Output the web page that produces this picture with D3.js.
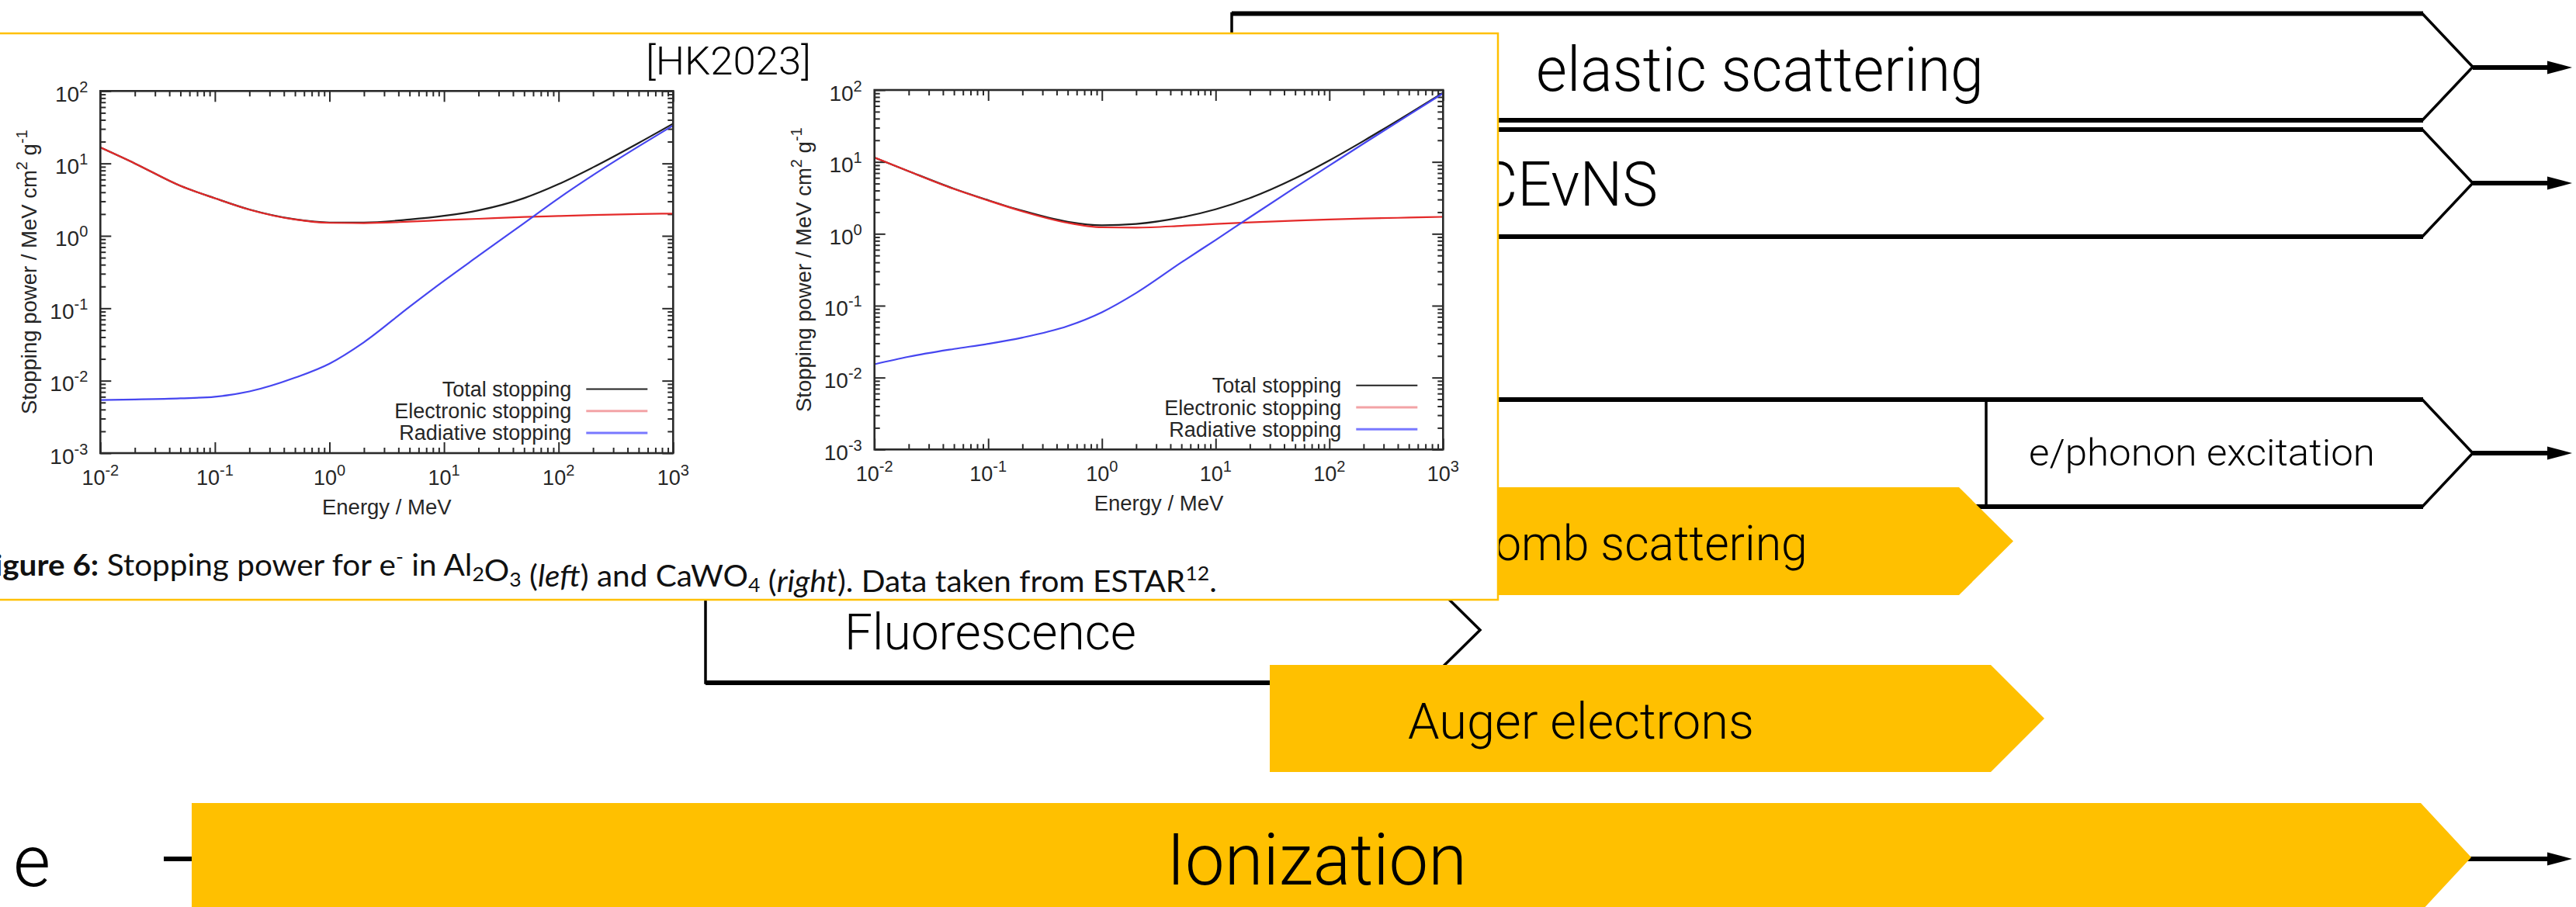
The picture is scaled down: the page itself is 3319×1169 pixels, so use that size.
<!DOCTYPE html>
<html><head><meta charset="utf-8">
<script src="https://cdn.jsdelivr.net/npm/d3@7"></script>
<style>html,body{margin:0;padding:0;background:#fff;overflow:hidden}svg{display:block}</style>
</head><body>
<svg id="c" width="3319" height="1169"></svg>
<script>
// ---------------- data ----------------
const energies = [0.01,0.02,0.05,0.1,0.2,0.5,1,2,5,10,20,50,100,200,500,1000];
const al2o3Total      = [16.6,10.0,4.91,3.31,2.31,1.69,1.53,1.53,1.68,1.89,2.25,3.32,5.18,8.84,19.2,35.5];
const al2o3Electronic = [16.6,10.0,4.9,3.3,2.3,1.68,1.51,1.5,1.57,1.65,1.72,1.82,1.88,1.94,2.0,2.03];
const al2o3Radiative  = [0.0054,0.0055,0.0057,0.006,0.0071,0.011,0.0172,0.034,0.105,0.24,0.53,1.5,3.3,6.9,17.2,33.5];
const cawo4Total      = [11.5,7.42,4.23,2.93,2.09,1.47,1.31,1.37,1.69,2.19,3.14,5.92,10.5,19.6,46.7,91.7];
const cawo4Electronic = [11.5,7.4,4.2,2.9,2.05,1.42,1.23,1.22,1.29,1.37,1.44,1.52,1.58,1.63,1.68,1.72];
const cawo4Radiative  = [0.0153,0.0195,0.025,0.0295,0.036,0.052,0.081,0.15,0.4,0.82,1.7,4.4,8.9,18,45,90];
const seriesNames = ["Total stopping","Electronic stopping","Radiative stopping"];
const seriesColors = ["#1e1e1e","#e42a2a","#4646f0"];
const legendColors = ["#222222","#f3a3a6","#7878ff"];
const xTickExponents = [-2,-1,0,1,2,3];
const yTickExponents = [-3,-2,-1,0,1,2];
const processLabels = ["elastic scattering","CEvNS","e/phonon excitation","Coulomb scattering","Fluorescence","Auger electrons","Ionization"];
const particleLabel = "e";
const citeLabel = "[HK2023]";

// ---------------- setup ----------------
const svg = d3.select("#c");
const LIGHT = "Roboto, 'Liberation Sans', Arial, sans-serif";
const PLOTF = "'Liberation Sans', Arial, Helvetica, sans-serif";
const GOLD = "#FFC000";

function boxPath(b){
  const m=(b.top+b.bottom)/2;
  return `M${b.left},${b.top}L${b.flat},${b.top}L${b.tip},${m}L${b.flat},${b.bottom}L${b.left},${b.bottom}Z`;
}
function arrow(g, x0, y){
  g.append("line").attr("x1",x0).attr("x2",3288).attr("y1",y).attr("y2",y)
    .attr("stroke","#000").attr("stroke-width",6);
  g.append("path").attr("d",`M3282,${y-8.5}L3314,${y}L3282,${y+8.5}Z`).attr("fill","#000");
}
function whiteBox(g, b){
  g.append("path").attr("d",boxPath(b)).attr("fill","#fff").attr("stroke","#000")
    .attr("stroke-width",3.5).attr("stroke-linejoin","miter");
  [b.top,b.bottom].forEach(yy=>g.append("line").attr("x1",b.left).attr("x2",b.flat+1)
    .attr("y1",yy).attr("y2",yy).attr("stroke","#000").attr("stroke-width",6));
}
function yellowBar(g,b){
  g.append("path").attr("d",boxPath(b)).attr("fill",GOLD);
}
let lightScale = 1;
function label(g, d){
  const t = g.append("text").attr("x",0).attr("y",0)
    .style("font-family",LIGHT).style("font-weight",300).style("font-size",d.size+"px")
    .attr("fill","#000").text(d.text);
  const w = t.node().getComputedTextLength();
  let s, x0;
  if (d.x0!=null && d.x1!=null){ s=(d.x1-d.x0)/w; x0=d.x0; }
  else { s=lightScale; x0=d.x1-w*s; }
  t.attr("transform",`translate(${x0},${d.baseline}) scale(${s},1)`);
  return s;
}

// ---------------- diagram ----------------
const dg = svg.append("g");
const elastic = {left:1587,top:17.5,bottom:155,flat:3121,tip:3186};
const cevns   = {left:1400,top:167,bottom:305,flat:3121,tip:3186};
const row3    = {left:1400,top:515,bottom:653,flat:3121,tip:3186};
const fluo    = {left:909,top:744,bottom:880,flat:1838,tip:1907};
arrow(dg, 3186, 87);
arrow(dg, 3186, 236);
arrow(dg, 3186, 584);
whiteBox(dg, elastic);
whiteBox(dg, cevns);
whiteBox(dg, row3);
dg.append("line").attr("x1",2559).attr("x2",2559).attr("y1",row3.top).attr("y2",row3.bottom)
  .attr("stroke","#000").attr("stroke-width",3.5);
lightScale = label(dg,{text:processLabels[0],x0:1979,x1:2556,baseline:117,size:80});
label(dg,{text:processLabels[1],x1:2136,baseline:265,size:80});
label(dg,{text:processLabels[2],x0:2614,x1:3060,baseline:600,size:49});
whiteBox(dg, fluo);
label(dg,{text:processLabels[4],x0:1088,x1:1464,baseline:837,size:65});

dg.append("text").attr("x",17).attr("y",1142).style("font-family",LIGHT).style("font-weight",300)
  .style("font-size","93px").attr("fill","#000").text(particleLabel);
arrow(dg, 211, 1107);

const coulomb = {left:900,top:628,bottom:767,flat:2524,tip:2594};
const auger   = {left:1636,top:857,bottom:995,flat:2565,tip:2634};
const ioniz   = {left:247,top:1035,bottom:1175,flat:3119,tip:3184};
yellowBar(dg,coulomb);
label(dg,{text:processLabels[3],x1:2329,baseline:722,size:63});
yellowBar(dg,auger);
label(dg,{text:processLabels[5],x0:1814,x1:2260,baseline:952,size:65});
yellowBar(dg,ioniz);
label(dg,{text:processLabels[6],x0:1503,x1:1890,baseline:1140,size:93});

// ---------------- inset figure ----------------
const inset = svg.append("g");
inset.append("rect").attr("x",-10).attr("y",43).attr("width",1940).attr("height",730)
  .attr("fill","#fff").attr("stroke",GOLD).attr("stroke-width",2.5);
label(inset,{text:citeLabel,x0:832,x1:1045,baseline:96,size:50});

function drawPlot(cfg, series){
  const g = inset.append("g");
  const x = d3.scaleLog().domain([1e-2,1e3]).range([cfg.l,cfg.r]);
  const y = d3.scaleLog().domain([1e-3,1e2]).range([cfg.b,cfg.t]);
  const majX = xTickExponents.map(e=>Math.pow(10,e));
  const majY = yTickExponents.map(e=>Math.pow(10,e));
  const minX=[], minY=[];
  xTickExponents.slice(0,-1).forEach(e=>{for(let k=2;k<10;k++) minX.push(k*Math.pow(10,e));});
  yTickExponents.slice(0,-1).forEach(e=>{for(let k=2;k<10;k++) minY.push(k*Math.pow(10,e));});
  const ax=(gen,tv,size,tr)=>{
    const a=g.append("g").attr("transform",tr).call(gen.tickValues(tv).tickSize(size).tickFormat(""));
    a.select(".domain").remove();
    a.selectAll("line").attr("stroke","#2a2a2a").attr("stroke-width",2);
  };
  ax(d3.axisBottom(x),majX,-14,`translate(0,${cfg.b})`);
  ax(d3.axisBottom(x),minX,-7,`translate(0,${cfg.b})`);
  ax(d3.axisTop(x),majX,-14,`translate(0,${cfg.t})`);
  ax(d3.axisTop(x),minX,-7,`translate(0,${cfg.t})`);
  ax(d3.axisLeft(y),majY,-14,`translate(${cfg.l},0)`);
  ax(d3.axisLeft(y),minY,-7,`translate(${cfg.l},0)`);
  ax(d3.axisRight(y),majY,-14,`translate(${cfg.r},0)`);
  ax(d3.axisRight(y),minY,-7,`translate(${cfg.r},0)`);

  const line=d3.line().x(d=>x(d[0])).y(d=>y(d[1])).curve(d3.curveMonotoneX);
  series.forEach((vals,i)=>{
    g.append("path").datum(energies.map((e,j)=>[e,vals[j]])).attr("d",line)
      .attr("fill","none").attr("stroke",seriesColors[i]).attr("stroke-width",2.2);
  });
  g.append("rect").attr("x",cfg.l).attr("y",cfg.t).attr("width",cfg.r-cfg.l).attr("height",cfg.b-cfg.t)
    .attr("fill","none").attr("stroke","#2a2a2a").attr("stroke-width",2.6);

  const tc="#262626";
  xTickExponents.forEach(e=>{
    const t=g.append("text").attr("x",x(Math.pow(10,e))).attr("y",cfg.b+41).attr("text-anchor","middle")
      .style("font-family",PLOTF).style("font-size","27px").attr("fill",tc);
    t.append("tspan").text("10");
    t.append("tspan").attr("dy",-12).style("font-size","20px").text(String(e));
  });
  yTickExponents.forEach(e=>{
    const t=g.append("text").attr("x",cfg.l-16).attr("y",y(Math.pow(10,e))+13.5).attr("text-anchor","end")
      .style("font-family",PLOTF).style("font-size","28px").attr("fill",tc);
    t.append("tspan").text("10");
    t.append("tspan").attr("dy",-12).style("font-size","20px").text(String(e));
  });
  g.append("text").attr("x",(cfg.l+cfg.r)/2).attr("y",cfg.b+79).attr("text-anchor","middle")
    .style("font-family",PLOTF).style("font-size","27.5px").attr("fill",tc).text("Energy / MeV");
  const yt=g.append("text").attr("transform",`translate(${cfg.l-82},${(cfg.t+cfg.b)/2}) rotate(-90)`)
    .attr("text-anchor","middle").style("font-family",PLOTF).style("font-size","27.5px").attr("fill",tc);
  yt.append("tspan").text("Stopping power / MeV cm");
  yt.append("tspan").attr("dy",-12).style("font-size","20px").text("2");
  yt.append("tspan").attr("dy",12).text(" g");
  yt.append("tspan").attr("dy",-12).style("font-size","20px").text("-1");
  seriesNames.forEach((n,i)=>{
    const ry=cfg.b-82.5+i*28.2;
    g.append("text").attr("x",cfg.r-131).attr("y",ry+9.5).attr("text-anchor","end")
      .style("font-family",PLOTF).style("font-size","27px").attr("fill",tc).text(n);
    g.append("line").attr("x1",cfg.r-112).attr("x2",cfg.r-33).attr("y1",ry).attr("y2",ry)
      .attr("stroke",legendColors[i]).attr("stroke-width",i===0?2:3);
  });
}
drawPlot({l:129.3,r:867.3,t:117.3,b:584},[al2o3Total,al2o3Electronic,al2o3Radiative]);
drawPlot({l:1126.7,r:1859.3,t:116,b:579.3},[cawo4Total,cawo4Electronic,cawo4Radiative]);

// caption (cut at the left edge, as in the reference)
const cap = inset.append("text").attr("x",0).attr("y",0)
  .style("font-family","Lato, 'Open Sans', sans-serif").style("font-size","38px").attr("fill","#111");
const sub=(t)=>{cap.append("tspan").attr("dy",7).style("font-size","25px").text(t);cap.append("tspan").attr("dy",-7).text("");};
cap.append("tspan").style("font-weight","bold").text("Figure 6:");
cap.append("tspan").text(" Stopping power for e");
cap.append("tspan").attr("dy",-15).style("font-size","25px").text("-");
cap.append("tspan").attr("dy",15).text(" in Al");
sub("2"); cap.append("tspan").text("O"); sub("3");
cap.append("tspan").text(" (");
cap.append("tspan").style("font-style","italic").text("left");
cap.append("tspan").text(") and CaWO");
sub("4");
cap.append("tspan").text(" (");
cap.append("tspan").style("font-style","italic").text("right");
cap.append("tspan").text("). Data taken from ESTAR");
cap.append("tspan").attr("dy",-15).style("font-size","25px").text("12");
cap.append("tspan").attr("dy",15).text(".");
{
  const bb=cap.node().getBBox();
  const s=(1568+30)/bb.width;
  cap.attr("transform",`translate(${-30 - bb.x*s},742) scale(${s},1)`);
}
</script>
</body></html>
